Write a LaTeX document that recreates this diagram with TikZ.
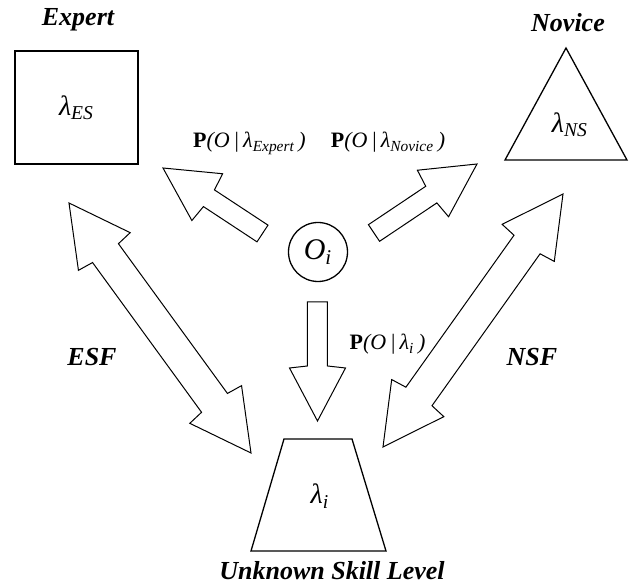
\documentclass[tikz,border=0pt]{standalone}
\usepackage{fontspec}
\setmainfont{Liberation Serif}
\usetikzlibrary{calc}

\tikzset{
  blockarrow/.style={draw,line width=.5pt},
  shapeline/.style={draw,line width=.65pt},
  caption/.style={font=\fontsize{13}{15}\selectfont\bfseries\itshape,anchor=base},
  problabel/.style={font=\fontsize{11}{13}\selectfont,anchor=base},
  lamlabel/.style={font=\fontsize{14}{16}\selectfont},
}

\newcommand\lam[1]{\textit{λ\textsubscript{#1}}}
\newcommand\prob[1]{\textbf{P}\textit{(O\,|\,#1\,)}}

% single block arrow: tail, tip
\newcommand\singlearrow[2]{%
  \coordinate (hb) at ($(#2)!26.5pt!(#1)$);
  \coordinate (nb) at ($(#2)!27.5pt!(#1)$);
  \draw[blockarrow] ($(#1)!5pt!90:(#2)$) -- ($(nb)!5pt!90:(#2)$) -- ($(hb)!14pt!90:(#2)$) -- (#2)
    -- ($(hb)!14pt!-90:(#2)$) -- ($(nb)!5pt!-90:(#2)$) -- ($(#1)!5pt!-90:(#2)$) -- cycle;
}
% double block arrow: tip, tip
\newcommand\doublearrow[2]{%
  \coordinate (ha) at ($(#1)!30pt!(#2)$);
  \coordinate (na) at ($(#1)!31pt!(#2)$);
  \coordinate (hz) at ($(#2)!30pt!(#1)$);
  \coordinate (nz) at ($(#2)!31pt!(#1)$);
  \draw[blockarrow] (#1) -- ($(ha)!16pt!90:(#2)$) -- ($(na)!8pt!90:(#2)$) -- ($(nz)!8pt!-90:(#1)$)
    -- ($(hz)!16pt!-90:(#1)$) -- (#2) -- ($(hz)!16pt!90:(#1)$) -- ($(nz)!8pt!90:(#1)$)
    -- ($(na)!8pt!-90:(#2)$) -- ($(ha)!16pt!-90:(#2)$) -- cycle;
}

\begin{document}
\begin{tikzpicture}[x=.5pt,y=-.5pt]
\useasboundingbox (0,0) rectangle (629,587);
% models
\node[shapeline,minimum width=61.5pt,minimum height=56.5pt,lamlabel] (expert) at (76.5,107.5) {\lam{ES}};
\node[caption] (expertname) at (78,26) {Expert};
\coordinate (nvtop) at (566,48);
\coordinate (nvleft) at (505,160);
\coordinate (nvright) at (627,160);
\draw[shapeline] (nvtop) -- (nvright) -- (nvleft) -- cycle;
\node[lamlabel] (novice) at (570,125) {\lam{NS}};
\node[caption] (novicename) at (568,32) {Novice};
\coordinate (ukTL) at (284,439);
\coordinate (ukTR) at (352,439);
\coordinate (ukBR) at (386,551);
\coordinate (ukBL) at (251,551);
\draw[shapeline] (ukTL) -- (ukTR) -- (ukBR) -- (ukBL) -- cycle;
\node[lamlabel] (unknown) at (320,496) {\lam{i}};
\node[caption] (unknownname) at (332,580) {Unknown Skill Level};
% observation
\node[shapeline,circle,minimum size=29.5pt,inner sep=0pt,font=\fontsize{15}{17}\selectfont] (obs) at (318,252) {\textit{O\textsubscript{i}}};
% arrows
\coordinate (nwtail) at (262.5,233.5);
\coordinate (nwtip) at (163,168);
\coordinate (netail) at (374,233);
\coordinate (netip) at (477,164);
\coordinate (dntail) at (317.5,302);
\coordinate (dntip) at (317.5,421);
\singlearrow{nwtail}{nwtip}
\singlearrow{netail}{netip}
\singlearrow{dntail}{dntip}
\coordinate (esftop) at (69,203);
\coordinate (esfbot) at (251,453);
\coordinate (nsftop) at (563,194);
\coordinate (nsfbot) at (383,447);
\doublearrow{esftop}{esfbot}
\doublearrow{nsftop}{nsfbot}
% labels
\node[problabel] (pexpert) at (249.5,148) {\prob{λ\textsubscript{Expert}}};
\node[problabel] (pnovice) at (388,148) {\prob{λ\textsubscript{Novice}}};
\node[problabel] (pi) at (387.5,350) {\prob{λ\textsubscript{i}}};
\node[caption] (esf) at (92,366) {ESF};
\node[caption] (nsf) at (532,366) {NSF};
\end{tikzpicture}
\end{document}
